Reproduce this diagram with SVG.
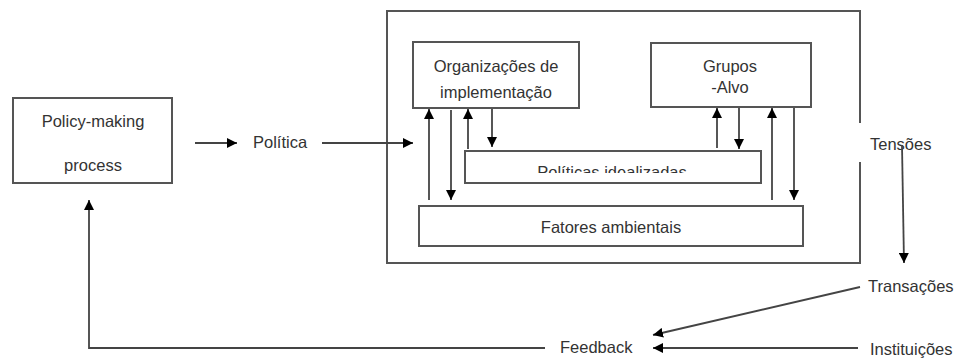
<svg xmlns="http://www.w3.org/2000/svg" width="960" height="358" viewBox="0 0 960 358">
<style>
.box{fill:#fff;stroke:#555;stroke-width:2}
.frame{fill:none;stroke:#555;stroke-width:2}
.t{font-family:"Liberation Sans",Arial,sans-serif;font-size:16.5px;fill:#333;text-anchor:middle}
.ts{font-family:"Liberation Sans",Arial,sans-serif;font-size:16.5px;fill:#333}
.c{fill:none;stroke:#444;stroke-width:1.8}
</style>
<defs>
<marker id="ah" viewBox="0 0 10 10" refX="10" refY="5" markerWidth="10" markerHeight="10" markerUnits="userSpaceOnUse" orient="auto">
<path d="M0,0 L10,5 L0,10 z" fill="#000"/>
</marker>
<clipPath id="clipPI"><rect x="465" y="151" width="296" height="22"/></clipPath>
</defs>
<rect width="960" height="358" fill="#fff"/>
<g id="implementacao-frame">
<path class="frame" d="M860,123 V11 H387 V263 H860 V162"/>
</g>
<g id="policy-making">
<rect class="box" x="13" y="98" width="159" height="85"/>
<text class="t" x="93" y="127">Policy-making</text>
<text class="t" x="93" y="171">process</text>
</g>
<g id="politica">
<text class="ts" x="253" y="148">Política</text>
</g>
<g id="organizacoes">
<rect class="box" x="413" y="42" width="166" height="66"/>
<text class="t" x="496" y="72">Organizações de</text>
<text class="t" x="496" y="98">implementação</text>
</g>
<g id="grupos-alvo">
<rect class="box" x="651" y="43" width="160" height="64"/>
<text class="t" x="730" y="72">Grupos</text>
<text class="t" x="730" y="93">-Alvo</text>
</g>
<g id="politicas-idealizadas">
<rect class="box" x="465" y="151" width="296" height="32"/>
<text class="t" x="612" y="178" clip-path="url(#clipPI)">Políticas idealizadas</text>
</g>
<g id="fatores-ambientais">
<rect class="box" x="419" y="206" width="384" height="40"/>
<text class="t" x="611" y="233">Fatores ambientais</text>
</g>
<g id="tensoes"><text class="ts" x="870" y="150">Tensões</text></g>
<g id="transacoes"><text class="ts" x="868" y="292">Transações</text></g>
<g id="instituicoes"><text class="ts" x="870" y="355">Instituições</text></g>
<g id="feedback"><text class="ts" x="560" y="353">Feedback</text></g>
<g id="connectors">
<line class="c" x1="195" y1="143" x2="237" y2="143" marker-end="url(#ah)"/>
<line class="c" x1="322" y1="143" x2="413" y2="143" marker-end="url(#ah)"/>
<line class="c" x1="429" y1="200" x2="429" y2="109" marker-end="url(#ah)"/>
<line class="c" x1="451" y1="110" x2="451" y2="200" marker-end="url(#ah)"/>
<line class="c" x1="468" y1="149" x2="468" y2="109" marker-end="url(#ah)"/>
<line class="c" x1="492" y1="109" x2="492" y2="147" marker-end="url(#ah)"/>
<line class="c" x1="717" y1="148" x2="717" y2="108" marker-end="url(#ah)"/>
<line class="c" x1="739" y1="108" x2="739" y2="149" marker-end="url(#ah)"/>
<line class="c" x1="772" y1="200" x2="772" y2="108" marker-end="url(#ah)"/>
<line class="c" x1="794" y1="108" x2="794" y2="200" marker-end="url(#ah)"/>
<line class="c" x1="902" y1="145" x2="904" y2="263" marker-end="url(#ah)"/>
<line class="c" x1="860" y1="287" x2="653" y2="335" marker-end="url(#ah)"/>
<line class="c" x1="858" y1="348" x2="653" y2="348" marker-end="url(#ah)"/>
<polyline class="c" points="545,348 89,348 89,200" marker-end="url(#ah)"/>
</g>
</svg>
